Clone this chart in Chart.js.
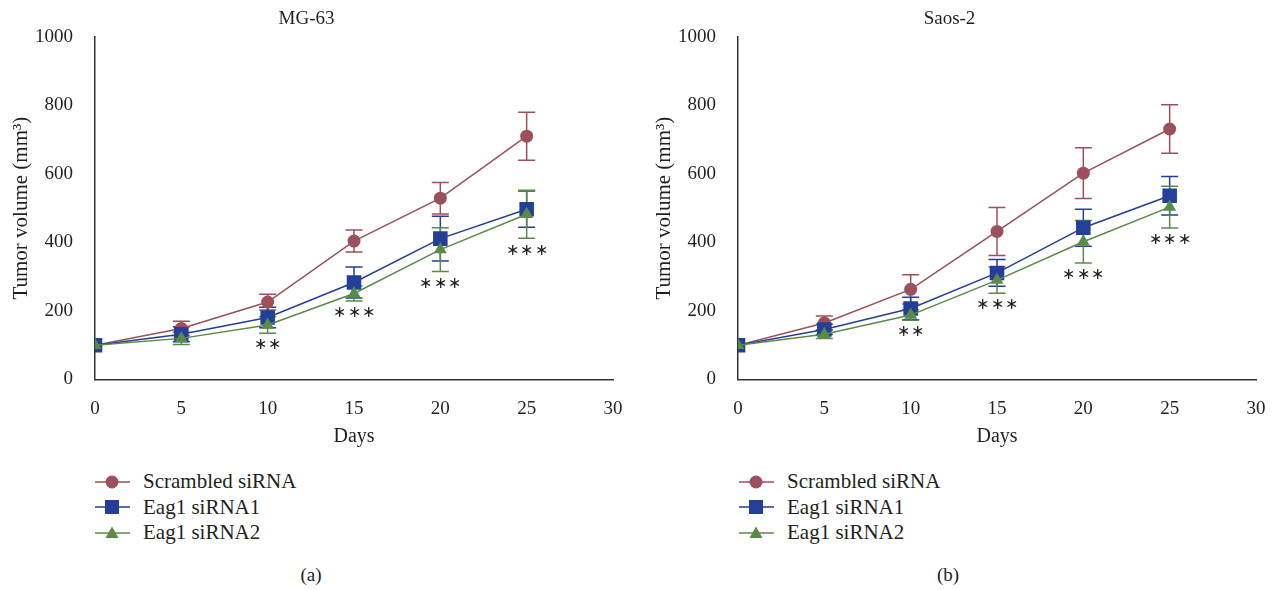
<!DOCTYPE html>
<html>
<head>
<meta charset="utf-8">
<title>Tumor volume - MG-63 / Saos-2</title>
<script src="https://cdn.jsdelivr.net/npm/chart.js@4.4.1/dist/chart.umd.min.js"></script>
<style>
    body { margin: 0; background: #fff; font-family: 'Liberation Serif', serif; color: #231f20; }
    .panel { position: absolute; top: 0; height: 460px; }
    .legend { position: absolute; top: 469px; font-size: 21px; }
    .legend-row { height: 25.5px; display: flex; align-items: center; white-space: nowrap; }
    .legend-row svg { margin-right: 12px; flex: none; }
    .caption { position: absolute; top: 565px; width: 40px; font-size: 19px; line-height: 20px; text-align: center; }
</style>
</head>
<body>
<div class="panel" style="left:0;width:637px;"><canvas id="chartA"></canvas></div>
<div class="panel" style="left:643px;width:631px;"><canvas id="chartB"></canvas></div>
<div class="legend" id="legendA" style="left:95px;"></div>
<div class="legend" id="legendB" style="left:739px;"></div>
<div class="caption" style="left:291px;">(a)</div>
<div class="caption" style="left:928px;">(b)</div>

<script>
// ================================================
// Tumor volume curves (mean +/- error) per cell line
// ================================================

const days = [0, 5, 10, 15, 20, 25];
const seriesNames = ['Scrambled siRNA', 'Eag1 siRNA1', 'Eag1 siRNA2'];
const yTicks = [0, 200, 400, 600, 800, 1000];
const xTicks = [0, 5, 10, 15, 20, 25, 30];
const stars = ['', '', '**', '***', '***', '***'];

// MG-63
const mgScrambled = [100, 149, 226, 404, 529, 710];
const mgScrambledErr = [0, 21, 23, 32, 46, 70];
const mgSi1 = [100, 132, 181, 283, 411, 497];
const mgSi1Err = [0, 22, 30, 45, 65, 53];
const mgSi2 = [100, 120, 159, 251, 379, 482];
const mgSi2Err = [0, 18, 24, 22, 64, 70];

// Saos-2
const saScrambled = [100, 165, 263, 432, 602, 731];
const saScrambledErr = [0, 20, 43, 70, 74, 71];
const saSi1 = [100, 146, 207, 311, 443, 536];
const saSi1Err = [0, 15, 33, 39, 54, 56];
const saSi2 = [100, 132, 188, 290, 402, 503];
const saSi2Err = [0, 12, 15, 38, 62, 61];

const colors = ['#9b505b', '#233f99', '#5b8a48'];
const markers = ['circle', 'rect', 'triangle'];
const markerSize = [6.5, 10.3, 7.5];
const FONT = "'Liberation Serif', serif";
const INK = '#231f20';

// Error bars, drawn under the markers
const errorBars = {
    id: 'errorBars',
    beforeDatasetsDraw(chart) {
        const { ctx, scales: { x, y } } = chart;
        ctx.save();
        ctx.lineWidth = 1.5;
        chart.data.datasets.forEach(ds => {
            ctx.strokeStyle = ds.borderColor;
            ds.errors.forEach((e, j) => {
                if (!e) return;
                const px = x.getPixelForValue(days[j]);
                const top = y.getPixelForValue(ds.data[j] + e);
                const bot = y.getPixelForValue(ds.data[j] - e);
                ctx.beginPath();
                ctx.moveTo(px, top); ctx.lineTo(px, bot);
                ctx.moveTo(px - 8.5, top); ctx.lineTo(px + 8.5, top);
                ctx.moveTo(px - 8.5, bot); ctx.lineTo(px + 8.5, bot);
                ctx.stroke();
            });
        });
        ctx.restore();
    }
};

// Significance asterisks under the lowest error bar
const starLabels = {
    id: 'starLabels',
    afterDatasetsDraw(chart) {
        const { ctx, scales: { x, y } } = chart;
        ctx.save();
        ctx.fillStyle = INK;
        ctx.font = '16px ' + FONT;
        ctx.textAlign = 'center';
        ctx.textBaseline = 'middle';
        stars.forEach((s, j) => {
            if (!s) return;
            let low = Infinity;
            chart.data.datasets.forEach(ds => { low = Math.min(low, ds.data[j] - ds.errors[j]); });
            const px = x.getPixelForValue(days[j]);
            const py = y.getPixelForValue(low) + 12;
            ctx.fillText(s.split('').map(() => '\u2217').join('\u200a'), px, py);
        });
        ctx.restore();
    }
};

function makeChart(id, title, values, errors, rightPad) {
    const ctx = document.getElementById(id).getContext('2d');
    return new Chart(ctx, {
        type: 'line',
        data: {
            labels: days,
            datasets: values.map((v, i) => ({
                label: seriesNames[i],
                data: v,
                errors: errors[i],
                borderColor: colors[i],
                backgroundColor: colors[i],
                borderWidth: 1.5,
                pointStyle: markers[i],
                pointRadius: markerSize[i],
                pointHoverRadius: markerSize[i],
                pointBorderWidth: 0,
                tension: 0,
                order: 2 - i
            }))
        },
        plugins: [errorBars, starLabels],
        options: {
            responsive: true,
            maintainAspectRatio: false,
            animation: false,
            layout: { padding: { left: 0, right: rightPad, top: 0, bottom: 0 } },
            plugins: {
                legend: { display: false },
                tooltip: { enabled: false },
                title: {
                    display: true,
                    text: title,
                    color: INK,
                    font: { family: FONT, size: 19, weight: 'normal' },
                    padding: { top: 8, bottom: 6 }
                }
            },
            scales: {
                x: {
                    type: 'linear',
                    min: 0,
                    max: 30,
                    afterBuildTicks: s => { s.ticks = xTicks.map(v => ({ value: v })); },
                    afterFit: s => { s.height = 80.5; },
                    grid: { display: false, drawOnChartArea: false, drawTicks: true, tickLength: 10, tickColor: '#333', tickWidth: 1.5 },
                    border: { color: '#333', width: 1.5 },
                    ticks: { color: INK, font: { family: FONT, size: 19 }, padding: 8, maxRotation: 0, callback: v => String(v) },
                    title: {
                        display: true, text: 'Days', color: INK,
                        font: { family: FONT, size: 20 }, padding: { top: 0, bottom: 11 }
                    }
                },
                y: {
                    min: 0,
                    max: 1000,
                    afterBuildTicks: s => { s.ticks = yTicks.map(v => ({ value: v })); },
                    afterFit: s => { s.width = 95; },
                    grid: { display: false, drawOnChartArea: false, drawTicks: true, tickLength: 11, tickColor: '#333', tickWidth: 1.5 },
                    border: { color: '#333', width: 1.5 },
                    ticks: { color: INK, font: { family: FONT, size: 19 }, padding: 11, callback: v => String(v) },
                    title: {
                        display: true, text: 'Tumor volume (mm\u00b3)', color: INK,
                        font: { family: FONT, size: 21 }, padding: { top: 9, bottom: 0 }
                    }
                }
            }
        }
    });
}

function buildLegend(id) {
    const box = document.getElementById(id);
    box.innerHTML = seriesNames.map((name, i) => {
        let mark;
        if (markers[i] === 'circle') mark = `<circle cx="17" cy="10" r="6.5" fill="${colors[i]}"/>`;
        else if (markers[i] === 'rect') mark = `<rect x="10" y="3" width="14" height="14" fill="${colors[i]}"/>`;
        else mark = `<polygon points="17,3.5 23.5,15 10.5,15" fill="${colors[i]}"/>`;
        return `
            <div class="legend-row">
                <svg width="36" height="20"><line x1="0" y1="10" x2="35" y2="10" stroke="${colors[i]}" stroke-width="1.5"/>${mark}</svg>
                <span>${name}</span>
            </div>`;
    }).join('');
}

makeChart('chartA', 'MG-63', [mgScrambled, mgSi1, mgSi2], [mgScrambledErr, mgSi1Err, mgSi2Err], 24);
makeChart('chartB', 'Saos-2', [saScrambled, saSi1, saSi2], [saScrambledErr, saSi1Err, saSi2Err], 18);
buildLegend('legendA');
buildLegend('legendB');
</script>
</body>
</html>
